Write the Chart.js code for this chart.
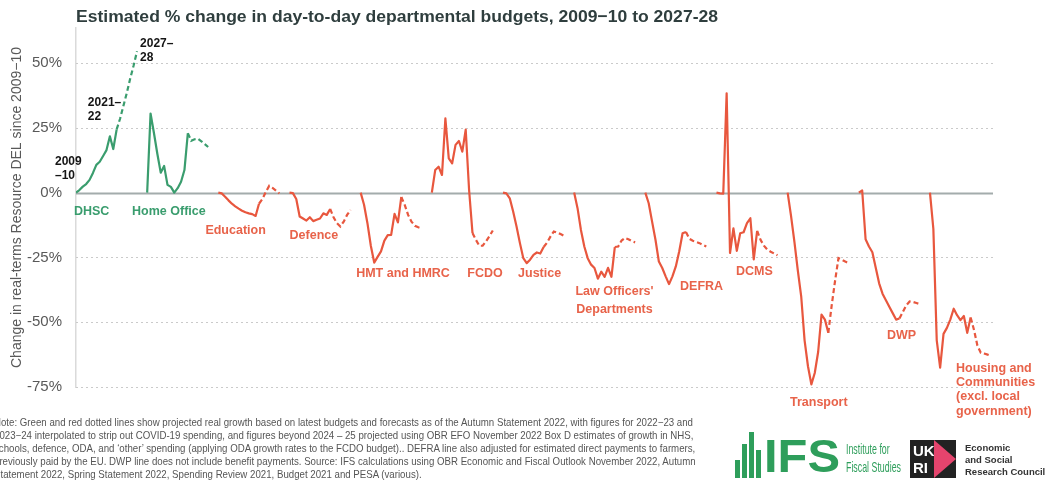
<!DOCTYPE html>
<html><head><meta charset="utf-8">
<script src="https://cdn.jsdelivr.net/npm/chart.js@4.4.0/dist/chart.umd.min.js"></script>
<style>
html,body{margin:0;padding:0;background:#fff;width:1057px;height:481px;overflow:hidden;font-family:"Liberation Sans",Arial,sans-serif}
#c{position:absolute;left:0;top:0}
#title{position:absolute;left:76px;top:7px;font-weight:bold;font-size:17px;color:#2f3e3e;white-space:nowrap;transform-origin:left top}
#note{position:absolute;left:-6px;top:416px;font-family:"Liberation Sans Narrow","Arial Narrow","Liberation Sans",sans-serif;font-size:10.5px;line-height:13px;color:#555;white-space:nowrap;transform-origin:left top}
#ifs{position:absolute;left:735px;top:430px;width:170px;height:50px}
.bar{position:absolute;bottom:2px;width:5px;background:#2e9e5b}
#ifsT{position:absolute;left:29px;top:3px;font-weight:bold;font-size:46px;line-height:46px;color:#2e9e5b;transform-origin:left top;white-space:nowrap}
#ifsS{position:absolute;left:111px;top:10px;font-size:15px;line-height:18px;color:#2e9e5b;white-space:nowrap;transform-origin:left top}
#ukri{position:absolute;left:910px;top:440px;width:147px;height:41px}
#ukbox{position:absolute;left:0;top:0;width:46px;height:38px;background:#222;overflow:hidden}
#ukbox .t{position:absolute;left:3px;color:#fff;font-weight:bold;font-size:15px;line-height:15px}
#ukbox .tri{position:absolute;left:24px;top:0;width:0;height:0;border-top:19px solid transparent;border-bottom:19px solid transparent;border-left:22px solid #e5446d}
#ukT{position:absolute;left:55px;top:2px;font-weight:bold;font-size:9.5px;line-height:12px;color:#333;white-space:nowrap}
</style></head>
<body>
<canvas id="c" width="1057" height="481"></canvas>
<div id="title">Estimated % change in day-to-day departmental budgets, 2009−10 to 2027-28</div>
<div id="note"><div>Note: Green and red dotted lines show projected real growth based on latest budgets and forecasts as of the Autumn Statement 2022, with figures for 2022−23 and</div><div>2023−24 interpolated to strip out COVID-19 spending, and figures beyond 2024 – 25 projected using OBR EFO November 2022 Box D estimates of growth in NHS,</div><div>schools, defence, ODA, and ‘other’ spending (applying ODA growth rates to the FCDO budget).. DEFRA line also adjusted for estimated direct payments to farmers,</div><div>previously paid by the EU. DWP line does not include benefit payments. Source: IFS calculations using OBR Economic and Fiscal Outlook November 2022, Autumn</div><div>Statement 2022, Spring Statement 2022, Spending Review 2021, Budget 2021 and PESA (various).</div></div>
<div id="ifs">
<div class="bar" style="left:0;height:18px"></div><div class="bar" style="left:7px;height:34px"></div><div class="bar" style="left:14px;height:46px"></div><div class="bar" style="left:21px;height:28px"></div>
<div id="ifsT">IFS</div><div id="ifsS">Institute for<br>Fiscal Studies</div></div>
<div id="ukri"><div id="ukbox"><div class="t" style="top:3px">UK</div><div class="t" style="top:20px">RI</div><div class="tri"></div></div>
<div id="ukT">Economic<br>and Social<br>Research Council</div></div>
<script>
// ---- data ----
const years = ['2009–10','2010–11','2011–12','2012–13','2013–14','2014–15','2015–16','2016–17','2017–18','2018–19','2019–20','2020–21','2021–22','2022–23','2023–24','2024–25','2025–26','2026–27','2027–28'];
const lastOutturnIndex = 12; // 2021–22
const departments = ['DHSC','Home Office','Education','Defence','HMT and HMRC','FCDO','Justice',"Law Officers' Departments",'DEFRA','DCMS','Transport','DWP','Housing and Communities (excl. local government)'];
const dhsc        = [0, 1.0, 2.3, 3.3, 4.9, 7.6, 10.7, 11.9, 14.1, 16.4, 21.7, 16.8, 24.4, 28.5, 33.5, 38.5, 44, 49, 54.5];
const homeOffice  = [0, 30.5, 23, 15, 7.7, 10.3, 3.0, 2.2, 0, 1.7, 4.2, 8.7, 22.9, 20.0, 20.6, 20.8, 19.8, 18.7, 17.6];
const education   = [0, -0.3, -1.6, -3.0, -4.3, -5.3, -6.2, -7.0, -7.6, -8.0, -8.3, -9.0, -4.3, -2.5, 0.2, 2.6, 1.8, 0.8, -0.3];
const defence     = [0, -0.2, -2.5, -9.2, -10.0, -10.8, -9.5, -11.0, -10.5, -10.0, -8.0, -8.6, -6.3, -9.5, -11.8, -13.1, -11.2, -8.6, -6.7];
const hmtHmrc     = [0, -4.7, -11.8, -20.5, -27.0, -24.8, -22.7, -18.5, -16.4, -16.3, -8.2, -11.5, -1.7, -4.7, -8.6, -11.2, -12.8, -13.4, -13.8];
const fcdo        = [0, 8.7, 10.0, 6.8, 28.6, 13.2, 11.3, 18.4, 19.9, 15.8, 24.3, 1.0, -15.6, -18.2, -20.5, -20.5, -18.8, -16.8, -14.6];
const justice     = [0, -0.3, -2.2, -7.3, -13.1, -19.5, -25.3, -27.2, -25.9, -24.0, -23.1, -23.5, -21.0, -19.3, -17.0, -15.0, -15.5, -16.0, -16.7];
const lawOfficers = [0, -6.0, -14.4, -20.8, -25.3, -27.8, -29.1, -33.2, -30.5, -32.5, -29.0, -32.5, -21.0, -20.8, -18.5, -17.5, -18.0, -18.7, -19.2];
const defra       = [0, -4.1, -11.2, -18.2, -26.6, -29.1, -32.3, -35.3, -32.3, -28.5, -22.7, -15.7, -15.2, -17.8, -18.6, -19.0, -19.5, -20.2, -20.8];
const dcms        = [0, -0.3, -0.4, 38.3, -23.3, -13.8, -22.5, -15.7, -15.3, -11.8, -9.9, -25.8, -14.8, -18.2, -20.5, -22.0, -22.8, -23.5, -24.2];
const transport   = [0, -9, -19, -30, -40, -57, -67, -74, -69.6, -61.5, -47.1, -49, -54.1, -43.5, -34, -25.3, -25.9, -26.6, -27.2];
const dwp         = [0, 0.8, -18.0, -20.8, -23.0, -29.0, -35.0, -39.0, -41.5, -44.0, -46.5, -49.0, -48.6, -46.0, -43.5, -42.0, -42.2, -42.6, -43.0];
const housing     = [0, -14, -57, -67.5, -54.5, -52.2, -49, -44.8, -47.3, -49.2, -47.6, -54.1, -48.2, -53, -59, -61.8, -62.1, -62.5, -62.9];
const seriesValues = [dhsc, homeOffice, education, defence, hmtHmrc, fcdo, justice, lawOfficers, defra, dcms, transport, dwp, housing];
const growingDepts = ['DHSC','Home Office'];
const yTicks = [-75, -50, -25, 0, 25, 50];

// ---- label text and anchors (x in year slots, y in %) ----
const deptLabels = [
  {lines:['DHSC'], x:4.6, y:-7.4},
  {lines:['Home Office'], x:27.4, y:-7.4},
  {lines:['Education'], x:47.1, y:-14.7},
  {lines:['Defence'], x:70.2, y:-16.7},
  {lines:['HMT and HMRC'], x:96.5, y:-31.3},
  {lines:['FCDO'], x:120.7, y:-31.1},
  {lines:['Justice'], x:136.8, y:-31.3},
  {lines:["Law Officers'", 'Departments'], x:158.9, y:-38.2, lh:18},
  {lines:['DEFRA'], x:184.6, y:-36.3},
  {lines:['DCMS'], x:200.2, y:-30.5},
  {lines:['Transport'], x:219.2, y:-81.0},
  {lines:['DWP'], x:243.6, y:-55.2},
  {lines:['Housing and','Communities','(excl. local','government)'], x:259.7, y:-67.8, lh:14.3, align:'left'}
];
const yearLabels = [
  {lines:['2009','–10'], x:-6.2, y:11.8},
  {lines:['2021–','22'], x:3.5, y:34.5},
  {lines:['2027–','28'], x:18.9, y:57.6}
];

const GREEN = '#3a9d6e', RED = '#e8573e', LABEL_RED = '#e8634a';
const SLOTS = 21; // 19 years + 2 gap slots per department

const datasets = [];
departments.forEach((d, k) => {
  const vals = seriesValues[k];
  const col = growingDepts.includes(d) ? GREEN : RED;
  const solid = [], dashed = [];
  vals.forEach((v, j) => {
    const pt = {x: k*SLOTS + j, y: v};
    if (j <= lastOutturnIndex) solid.push(pt);
    if (j >= lastOutturnIndex) dashed.push(pt);
  });
  datasets.push({label: d, data: solid, borderColor: col, borderWidth: 2.2, pointRadius: 0, tension: 0, borderJoinStyle: 'round'});
  datasets.push({label: d + ' (projected)', data: dashed, borderColor: col, borderWidth: 2.2, pointRadius: 0, tension: 0, borderDash: [5, 3]});
});

const FONT = '"Liberation Sans", Arial, sans-serif';

const gridPlugin = {
  id: 'grid',
  beforeDatasetsDraw(c) {
    const {ctx, chartArea: a, scales: {y}} = c;
    ctx.save();
    yTicks.forEach(v => {
      const py = Math.round(y.getPixelForValue(v)) + 0.5;
      ctx.beginPath();
      if (v === 0) { ctx.setLineDash([]); ctx.strokeStyle = '#a3acac'; ctx.lineWidth = 2; }
      else { ctx.setLineDash([2, 3]); ctx.strokeStyle = '#cacaca'; ctx.lineWidth = 1; }
      ctx.moveTo(a.left, py); ctx.lineTo(a.right, py); ctx.stroke();
    });
    ctx.restore();
  }
};

const labelPlugin = {
  id: 'labels',
  afterDatasetsDraw(c) {
    const {ctx, scales: {x, y}} = c;
    ctx.save();
    ctx.textBaseline = 'middle';
    deptLabels.forEach((L, k) => {
      const col = growingDepts.includes(departments[k]) ? GREEN : LABEL_RED;
      ctx.fillStyle = col;
      ctx.font = 'bold 12.5px ' + FONT;
      ctx.textAlign = L.align || 'center';
      const px = x.getPixelForValue(L.x), py = y.getPixelForValue(L.y);
      L.lines.forEach((t, i) => ctx.fillText(t, px, py + i * (L.lh || 14)));
    });
    ctx.fillStyle = '#151515';
    ctx.font = 'bold 12px ' + FONT;
    ctx.textAlign = 'left';
    yearLabels.forEach(L => {
      const px = x.getPixelForValue(L.x), py = y.getPixelForValue(L.y);
      L.lines.forEach((t, i) => ctx.fillText(t, px, py + i * 14));
    });
    ctx.restore();
  }
};

new Chart(document.getElementById('c'), {
  type: 'line',
  data: {datasets},
  options: {
    responsive: false, animation: false,
    layout: {padding: {left: 0, right: 64, top: 28, bottom: 94}},
    plugins: {legend: {display: false}, tooltip: {enabled: false}},
    scales: {
      x: {type: 'linear', min: 0, max: 270.6, display: false},
      y: {
        min: -75, max: 63.5,
        afterFit(s) { s.width = 76; },
        afterBuildTicks(s) { s.ticks = yTicks.map(v => ({value: v})); },
        ticks: {callback: v => v + '%', font: {size: 15, family: FONT}, color: '#595959', padding: 14},
        grid: {display: false, drawTicks: false},
        border: {display: true, color: '#dadada', width: 1.5},
        title: {display: true, text: 'Change in real-terms Resource DEL since 2009−10', font: {size: 14, family: FONT}, color: '#595959', padding: {top: 9, bottom: 0}}
      }
    }
  },
  plugins: [gridPlugin, labelPlugin]
});

// fit text blocks to the reference layout widths
function fitWidth(el, target) {
  const prev = el.style.display;
  el.style.display = 'inline-block';
  const w = el.getBoundingClientRect().width;
  el.style.display = prev;
  return target / w;
}
(function(){
  const t = document.getElementById('title');
  t.style.transform = 'scaleX(' + fitWidth(t, 642) + ')';
  const n = document.getElementById('note');
  n.style.transform = 'scaleX(' + fitWidth(n.firstElementChild, 699) + ')';
  const it = document.getElementById('ifsT');
  it.style.transform = 'scaleX(' + fitWidth(it, 76) + ')';
  const is = document.getElementById('ifsS');
  is.style.transform = 'scaleX(' + fitWidth(is, 55) + ')';
})();
</script>
</body></html>
